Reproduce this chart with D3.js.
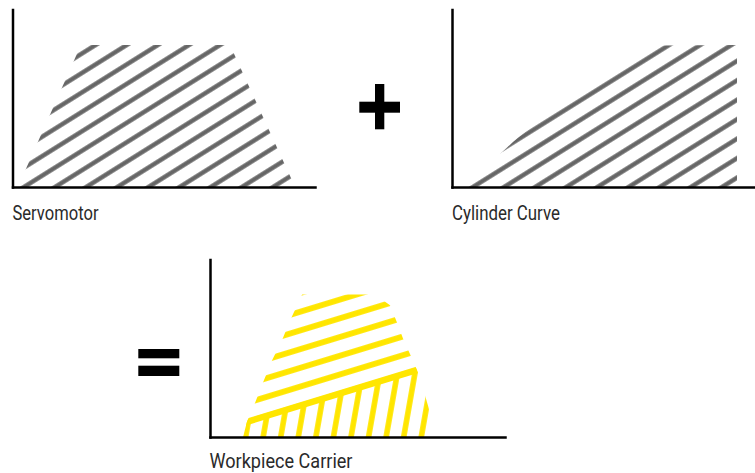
<!DOCTYPE html>
<html>
<head>
<meta charset="utf-8">
<script src="https://cdn.jsdelivr.net/npm/d3@7"></script>
<style>
  body { margin: 0; background: #fff; }
  svg { display: block; }
  .label { font-family: Roboto, "Liberation Sans", sans-serif; font-size: 20.5px; fill: #2a2a2a; }
</style>
</head>
<body>
<svg id="mySvg" width="755" height="473"></svg>
<script>
var svg = d3.select("#mySvg");

// servomotor speed profile (time 0..100, speed 0..100)
const servoTime = [1.8, 22.8, 72.5, 94.2];
const servoSpeed = [0, 80, 80, 0];

// cylinder curve
const cylinderTime = [5.3, 12.7, 22, 31, 40, 49.3, 58.3, 64.3, 70, 95];
const cylinderSpeed = [0, 13, 27.7, 39, 49.7, 60.5, 71.8, 77.4, 79.7, 80];

// workpiece carrier outline (closed) and the split line between the two hatchings
const carrierTime = [11, 12.3, 15, 17.7, 20.7, 24, 26.7, 30.7, 55, 60, 62.3, 64.3, 66.7, 69, 71, 73.3, 75.3];
const carrierSpeed = [0, 8.4, 19.1, 30.9, 43.3, 54.5, 65.7, 80.3, 80.3, 74.2, 64.6, 55.6, 46.6, 37.6, 27.5, 14, 0];
const splitTime = [12.3, 69];
const splitSpeed = [8.4, 37.6];

const labels = ["Servomotor", "Cylinder Curve", "Workpiece Carrier"];

const gray = "#666666";
const yellow = "#ffe600";

// panel layout: origin of axes, axis length, height, label spot and width
const panels = [
    { ox: 12.5, oy: 187, w: 302.5, h: 177.5, lx: 12.5, ly: 220, lw: 86 },
    { ox: 452, oy: 187, w: 303, h: 177.5, lx: 452, ly: 220, lw: 108 },
    { ox: 210, oy: 437, w: 295, h: 177.5, lx: 209.5, ly: 467.5, lw: 143 }
];

const defs = svg.append("defs");

function stripes(id, color, angle, gap, width, cx, cy) {
    defs.append("pattern")
        .attr("id", id)
        .attr("patternUnits", "userSpaceOnUse")
        .attr("width", 20)
        .attr("height", gap)
        .attr("patternTransform", `translate(${cx},${cy}) rotate(${-angle}) translate(0,${-gap / 2})`)
        .append("rect")
        .attr("x", 0)
        .attr("y", (gap - width) / 2)
        .attr("width", 20)
        .attr("height", width)
        .attr("fill", color);
}

stripes("hatchServo", gray, 32, 16.5, 4.4, 24, 187);
stripes("hatchCyl", gray, 32, 16.5, 4.4, 473, 187);
stripes("hatchUpper", yellow, 17, 17.9, 5.8, 330, 377.5);
stripes("hatchLower", yellow, 80, 17.3, 5.5, 351.7, 433);

function makeScales(p) {
    var x = d3.scaleLinear().domain([0, p.w / 3]).range([p.ox, p.ox + p.w]);
    var y = d3.scaleLinear().domain([0, 100]).range([p.oy, p.oy - p.h]);
    return { x, y };
}

function drawAxes(p, s) {
    svg.append("g")
        .attr("transform", `translate(0,${p.oy})`)
        .call(d3.axisBottom(s.x).ticks(0).tickSizeOuter(0));
    svg.append("g")
        .attr("transform", `translate(${p.ox},0)`)
        .call(d3.axisLeft(s.y).ticks(0).tickSizeOuter(0));
}

function hatchedArea(id, times, speeds, curve, s, pattern) {
    var pts = times.map((t, i) => [t, speeds[i]]);
    var area = d3.area()
        .x(d => s.x(d[0]))
        .y0(s.y(0))
        .y1(d => s.y(d[1]))
        .curve(curve);
    defs.append("clipPath").attr("id", id)
        .append("path").attr("d", area(pts));
    svg.append("rect")
        .attr("clip-path", `url(#${id})`)
        .attr("x", 0).attr("y", 0).attr("width", 755).attr("height", 473)
        .attr("fill", `url(#${pattern})`);
}

// Servomotor
var s1 = makeScales(panels[0]);
hatchedArea("clipServo", servoTime, servoSpeed, d3.curveLinear, s1, "hatchServo");

// Cylinder curve
var s2 = makeScales(panels[1]);
hatchedArea("clipCyl", cylinderTime, cylinderSpeed, d3.curveMonotoneX, s2, "hatchCyl");

// Workpiece carrier
var s3 = makeScales(panels[2]);
var outline = d3.line()
    .x(d => s3.x(d[0]))
    .y(d => s3.y(d[1]))
    .curve(d3.curveLinearClosed);
defs.append("clipPath").attr("id", "clipCarrier")
    .append("path").attr("d", outline(carrierTime.map((t, i) => [t, carrierSpeed[i]])));

// half planes either side of the split line
var slope = (splitSpeed[1] - splitSpeed[0]) / (splitTime[1] - splitTime[0]);
var atT = t => splitSpeed[0] + slope * (t - splitTime[0]);
var upperPoly = [[-20, atT(-20)], [120, atT(120)], [120, 200], [-20, 200]];
var lowerPoly = [[-20, atT(-20)], [120, atT(120)], [120, -50], [-20, -50]];
defs.append("clipPath").attr("id", "clipUpper")
    .append("path").attr("d", outline(upperPoly));
defs.append("clipPath").attr("id", "clipLower")
    .append("path").attr("d", outline(lowerPoly));

var carrier = svg.append("g").attr("clip-path", "url(#clipCarrier)");
carrier.append("g").attr("clip-path", "url(#clipUpper)")
    .append("rect")
    .attr("x", 0).attr("y", 0).attr("width", 755).attr("height", 473)
    .attr("fill", "url(#hatchUpper)");
carrier.append("g").attr("clip-path", "url(#clipLower)")
    .append("rect")
    .attr("x", 0).attr("y", 0).attr("width", 755).attr("height", 473)
    .attr("fill", "url(#hatchLower)");
carrier.append("path")
    .attr("d", d3.line().x(d => s3.x(d[0])).y(d => s3.y(d[1]))([[splitTime[0] - 5, atT(splitTime[0] - 5)], [splitTime[1] + 5, atT(splitTime[1] + 5)]]))
    .attr("stroke", yellow)
    .attr("stroke-width", 6)
    .attr("fill", "none");

// axes on top
drawAxes(panels[0], s1);
drawAxes(panels[1], s2);
drawAxes(panels[2], s3);
svg.selectAll(".domain")
    .attr("stroke", "#000")
    .attr("stroke-width", 2.5)
    .attr("stroke-linecap", "square");

// operators
svg.append("rect").attr("x", 375).attr("y", 84).attr("width", 9.3).attr("height", 45.3).attr("fill", "#000");
svg.append("rect").attr("x", 359.3).attr("y", 101.7).attr("width", 40.7).attr("height", 11).attr("fill", "#000");
svg.append("rect").attr("x", 138.3).attr("y", 349).attr("width", 41).attr("height", 9.3).attr("fill", "#000");
svg.append("rect").attr("x", 138.3).attr("y", 365.7).attr("width", 41).attr("height", 10.3).attr("fill", "#000");

// labels, squeezed to the condensed width of the original
svg.selectAll(".label")
    .data(labels)
    .enter()
    .append("text")
    .attr("class", "label")
    .attr("x", (d, i) => panels[i].lx)
    .attr("y", (d, i) => panels[i].ly)
    .attr("textLength", (d, i) => panels[i].lw)
    .attr("lengthAdjust", "spacingAndGlyphs")
    .text(d => d);
</script>
</body>
</html>
